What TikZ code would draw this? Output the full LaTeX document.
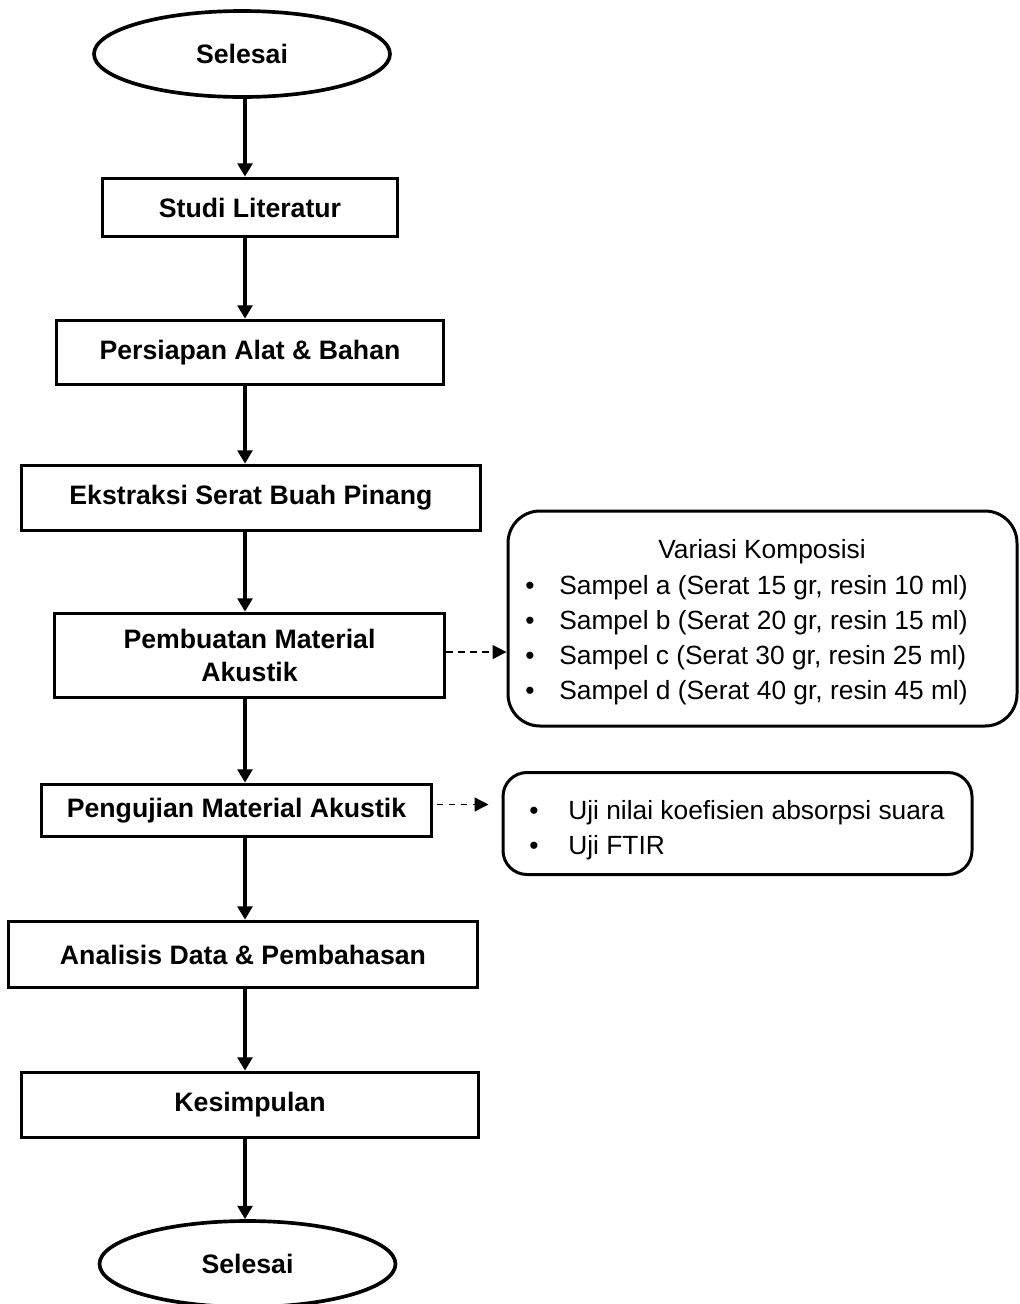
\documentclass[tikz,border=0pt]{standalone}
\usepackage{fontspec}
\setmainfont{Liberation Sans}
\usetikzlibrary{shapes.geometric,arrows.meta}

\tikzset{every picture/.style={line width=2.75pt}}
\tikzset{
  kotak/.style={draw, rectangle, inner sep=0.75pt, align=center, font=\fontsize{20}{24.75}\selectfont\bfseries},
  lonjong/.style={draw, ellipse, inner sep=0.75pt, minimum width=222pt, minimum height=64.5pt, font=\fontsize{20}{24.75}\selectfont\bfseries},
  panel/.style={draw, rectangle, rounded corners=#1, line width=2.25pt},
  isi/.style={inner sep=0pt, font=\fontsize{19.75}{26.25}\selectfont},
  panah/.style={-{Triangle[length=10pt,width=11pt]}, line width=2.5pt},
  putus/.style={-{Triangle[length=10.5pt,width=10.5pt]}, line width=1pt, dash pattern=on 5pt off 4pt},
}
\newcommand{\butir}[2]{\makebox[#1][l]{\textbullet}#2}

\begin{document}
\begin{tikzpicture}[x=0.75pt,y=0.75pt,yscale=-1,xscale=1]
    \useasboundingbox (0,0) rectangle (1020,1304);
    \coordinate (tengah) at (245,0);

    %Shape: Ellipse [id:mulai]
    \node [lonjong] (mulai) at (242,54) {Selesai};
    %Shape: Rectangle [id:studi]
    \node [kotak, minimum width=221.25pt, minimum height=43.5pt] (studi) at (250,207.5) {Studi Literatur};
    %Shape: Rectangle [id:persiapan]
    \node [kotak, minimum width=290.25pt, minimum height=48pt] (persiapan) at (250,352.5) {Persiapan Alat \& Bahan};
    %Shape: Rectangle [id:ekstraksi]
    \node [kotak, minimum width=344.25pt, minimum height=48.75pt] (ekstraksi) at (251,498) {Ekstraksi Serat Buah Pinang};
    %Shape: Rectangle [id:pembuatan]
    \node [kotak, minimum width=292.5pt, minimum height=63pt] (pembuatan) at (249.5,655.5) {Pembuatan Material\\Akustik};
    %Shape: Rectangle [id:pengujian]
    \node [kotak, minimum width=292.5pt, minimum height=39pt] (pengujian) at (236.5,810.5) {Pengujian Material Akustik};
    %Shape: Rectangle [id:analisis]
    \node [kotak, minimum width=351.75pt, minimum height=49.5pt] (analisis) at (243,954.5) {Analisis Data \& Pembahasan};
    %Shape: Rectangle [id:kesimpulan]
    \node [kotak, minimum width=342.75pt, minimum height=48.75pt] (kesimpulan) at (250,1105) {Kesimpulan};
    %Shape: Ellipse [id:selesai]
    \node [lonjong] (selesai) at (247.5,1264) {Selesai};

    %Shape: Rounded Rect [id:variasi]
    \node [panel=24pt, minimum width=381.75pt, minimum height=161.25pt] (variasi) at (762.5,618.5) {};
    %Shape: Rounded Rect [id:uji]
    \node [panel=18pt, minimum width=351.75pt, minimum height=76.5pt] (uji) at (737.5,823.5) {};

    %Straight Lines [id:alur]
    \draw [panah] (mulai.south -| tengah) -- (studi.north -| tengah);
    \draw [panah] (studi.south -| tengah) -- (persiapan.north -| tengah);
    \draw [panah] (persiapan.south -| tengah) -- (ekstraksi.north -| tengah);
    \draw [panah] (ekstraksi.south -| tengah) -- (pembuatan.north -| tengah);
    \draw [panah] (pembuatan.south -| tengah) -- (pengujian.north -| tengah);
    \draw [panah] (pengujian.south -| tengah) -- (analisis.north -| tengah);
    \draw [panah] (analisis.south -| tengah) -- (kesimpulan.north -| tengah);
    \draw [panah] (kesimpulan.south -| tengah) -- (selesai.north -| tengah);
    %Straight Lines [id:cabang]
    \draw [putus] ([yshift=-2.6pt]pembuatan.east) -- ([yshift=-2.6pt]pembuatan.east -| variasi.west);
    \draw [putus, shorten >=9.75pt] ([xshift=2.5pt,yshift=-4.5pt]pengujian.east) -- ([yshift=-4.5pt]pengujian.east -| uji.west);

    % Text Node
    \node [isi, anchor=base] (judulvariasi) at (762,558) {Variasi Komposisi};
    % Text Node
    \node [isi, anchor=north west, align=left] (daftarvariasi) at (523.5,568.5) {\strut\butir{25.5pt}{Sampel a (Serat 15 gr, resin 10 ml)}\\\butir{25.5pt}{Sampel b (Serat 20 gr, resin 15 ml)}\\\butir{25.5pt}{Sampel c (Serat 30 gr, resin 25 ml)}\\\butir{25.5pt}{Sampel d (Serat 40 gr, resin 45 ml)}};
    % Text Node
    \node [isi, anchor=north west, align=left] (daftaruji) at (527.5,793.5) {\strut\butir{29.25pt}{Uji nilai koefisien absorpsi suara}\\\butir{29.25pt}{Uji FTIR}};

\end{tikzpicture}
\end{document}
